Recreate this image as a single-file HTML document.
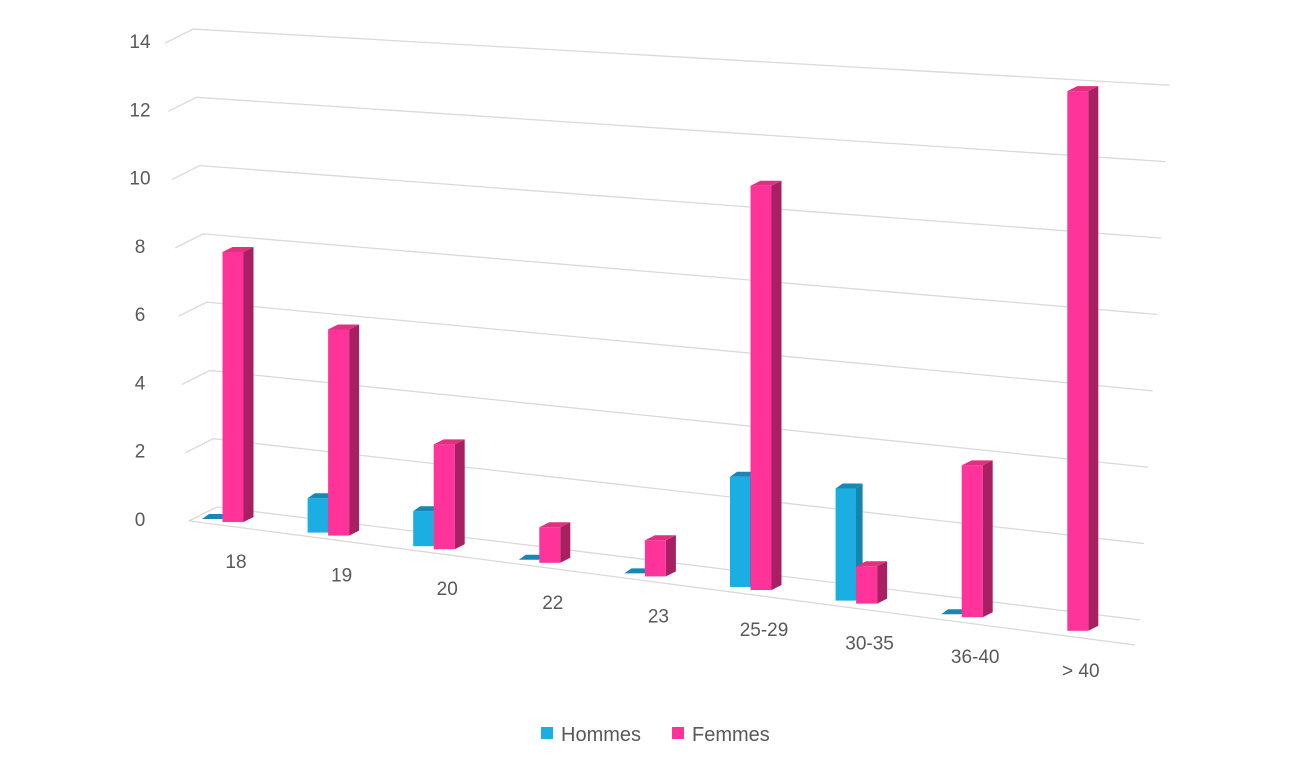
<!DOCTYPE html>
<html><head><meta charset="utf-8"><style>
body{margin:0;background:#fff;}
svg text{font-family:"Liberation Sans",sans-serif;fill:#595959;}
</style></head><body>
<svg width="1310" height="768" viewBox="0 0 1310 768">
<g id="grid"></g><g id="bars"></g><g id="labels"></g>
<g>
<rect x="541" y="727" width="12" height="12" fill="#1AAEE3"/>
<text x="561" y="741" font-size="20">Hommes</text>
<rect x="672" y="727" width="12" height="12" fill="#FF3399"/>
<text x="692" y="741" font-size="20">Femmes</text>
</g>
</svg>
<script>
const categories=["18","19","20","22","23","25-29","30-35","36-40","> 40"];
const hommes=[0,1,1,0,0,3,3,0,null];
const femmes=[8,6,3,1,1,11,1,4,14];
const yTicks=[0,2,4,6,8,10,12,14];
const NS="http://www.w3.org/2000/svg";
function mk(tag,attrs,parent){const e=document.createElementNS(NS,tag);for(const k in attrs)e.setAttribute(k,attrs[k]);parent.appendChild(e);return e;}
const grid=document.getElementById('grid'),bars=document.getElementById('bars'),labels=document.getElementById('labels');
// axis functions
function yL(v){return 518-v*34.14;}
function xLf(v){return 165+(14-v)*1.7;}
function yR(v){return 620-v*38.2;}
function xR(v){return 1140+v*2.1;}
function cxF(i){return 233+i*105.6;}
function baseY(i){return 522+i*13.6;}
function scale(i){return 33.75+i*0.6;}
yTicks.forEach(v=>{
  const fx=xLf(v),fy=yL(v)+3,bx=fx+28,by=fy-14;
  const l=mk('polyline',{points:`${fx},${fy} ${bx},${by} ${xR(v)},${yR(v)}`,fill:'none',stroke:'#d9d9d9','stroke-width':1.3},grid);
  
  
  const t=mk('text',{x:140,y:yL(v)+8,'font-size':19,'text-anchor':'middle'},labels);
  t.textContent=v;
  
  
});
const floor=mk('line',{x1:190,y1:521,x2:1135,y2:645,stroke:'#d9d9d9','stroke-width':1.3},grid);


function bar(cx,w,base,h,d,cols,name){
  const g=mk('g',{},bars);
  
  
  const x0=cx-w/2,x1=cx+w/2,top=base-h,dy=5;
  if(h>0){
    mk('polygon',{points:`${x1},${top} ${x1+d},${top-dy} ${x1+d},${base-dy} ${x1},${base}`,fill:cols[1]},g);
    mk('rect',{x:x0,y:top,width:w,height:h,fill:cols[0]},g);
  }
  mk('polygon',{points:`${x0},${top} ${x0+d},${top-dy} ${x1+d},${top-dy} ${x1},${top}`,fill:cols[2]},g);
}
categories.forEach((c,i)=>{
  const b=baseY(i),s=scale(i),cx=cxF(i);
  if(hommes[i]!==null) bar(cx-21,20,b-3,hommes[i]*s,7,['#1AAEE3','#1585AE','#1588B5'],'bar-hommes-'+c);
  bar(cx,21,b,femmes[i]*s,10,['#FF3399','#A81F62','#E0307F'],'bar-femmes-'+c);
  const t=mk('text',{x:cx+3,y:b+46,'font-size':19,'text-anchor':'middle'},labels);
  t.textContent=c;
  
  
});
</script>
</body></html>
